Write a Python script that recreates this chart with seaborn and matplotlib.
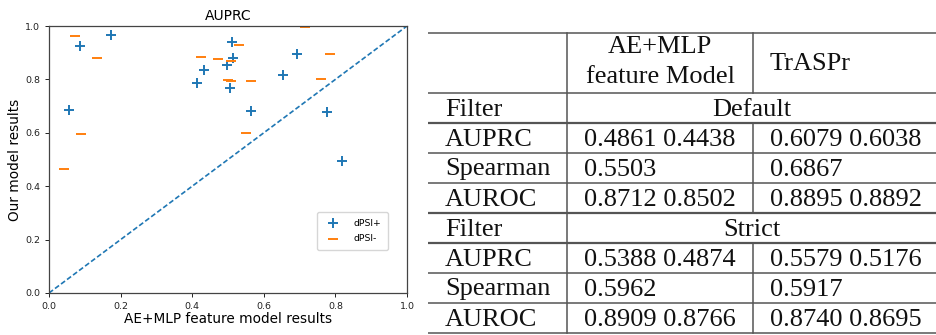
import numpy as np
import pandas as pd
import matplotlib
matplotlib.use("Agg")
import matplotlib.pyplot as plt
import seaborn as sns

# scatter values (x: AE+MLP feature model, y: our model)
plus_x = [0.057, 0.087, 0.172, 0.414, 0.433, 0.498, 0.512, 0.514, 0.505, 0.563, 0.654, 0.693, 0.777, 0.819]
plus_y = [0.686, 0.924, 0.968, 0.788, 0.835, 0.853, 0.941, 0.882, 0.769, 0.682, 0.817, 0.897, 0.678, 0.493]
minus_x = [0.072, 0.134, 0.090, 0.042, 0.425, 0.473, 0.530, 0.509, 0.501, 0.507, 0.563, 0.549, 0.716, 0.759, 0.784]
minus_y = [0.964, 0.879, 0.596, 0.466, 0.884, 0.878, 0.930, 0.870, 0.798, 0.794, 0.794, 0.599, 0.995, 0.803, 0.897]

# table contents
col_headers = [["AE+MLP", "feature Model"], ["TrASPr"]]
metrics = ["AUPRC", "Spearman", "AUROC"]
filters = ["Default", "Strict"]
ae_vals = {
    "Default": ["0.4861 0.4438", "0.5503", "0.8712 0.8502"],
    "Strict": ["0.5388 0.4874", "0.5962", "0.8909 0.8766"],
}
traspr_vals = {
    "Default": ["0.6079 0.6038", "0.6867", "0.8895 0.8892"],
    "Strict": ["0.5579 0.5176", "0.5917", "0.8740 0.8695"],
}

df = pd.concat([
    pd.DataFrame({"x": plus_x, "y": plus_y, "kind": "dPSI+"}),
    pd.DataFrame({"x": minus_x, "y": minus_y, "kind": "dPSI-"}),
])

W, H = 937, 335
fig = plt.figure(figsize=(W / 100, H / 100), dpi=100)

# ---- scatter panel
ax = fig.add_axes([49 / W, (H - 293) / H, 358 / W, 267 / H])
sns.scatterplot(data=df[df.kind == "dPSI+"], x="x", y="y", marker="+", color="#1f77b4",
                s=55, linewidth=1.4, label="dPSI+", ax=ax)
sns.scatterplot(data=df[df.kind == "dPSI-"], x="x", y="y", marker="_", color="#ff7f0e",
                s=55, linewidth=1.4, label="dPSI-", ax=ax)
ax.axline((0, 0), slope=1, ls="--", color="#1f77b4", lw=1.2, dashes=(3, 1.5))
ax.set_xlim(0, 1)
ax.set_ylim(0, 1)
ax.set_xticks(np.arange(0, 1.01, 0.2))
ax.set_yticks(np.arange(0, 1.01, 0.2))
ax.tick_params(labelsize=6.8, length=3, width=0.7, colors="#222")
for sp in ax.spines.values():
    sp.set_color("#444")
    sp.set_linewidth(0.9)
ax.set_title("AUPRC", fontsize=10, pad=4)
ax.set_xlabel("AE+MLP feature model results", fontsize=9.8, labelpad=1)
ax.set_ylabel("Our model results", fontsize=9.8, labelpad=2)
ax.legend(loc="lower right", bbox_to_anchor=(0.947, 0.162), borderaxespad=0,
          fontsize=6.7, handletextpad=1.2, borderpad=0.7, labelspacing=0.7)

# ---- table panel (coordinates in figure pixels)
tx = fig.add_axes([428 / W, 0, (W - 428) / W, 1])
tx.set_xlim(428, W)
tx.set_ylim(H, 0)
tx.axis("off")

serif = {"family": "Liberation Serif", "size": 19, "color": "#111"}
line_kw = {"color": "#555", "lw": 1.1}
x0, x1, x2, x3 = 428, 567.5, 753, W
header_top, header_bot = 33, 93
row_h = 30

rows_y = [header_top, header_bot]
for i in range(8):
    rows_y.append(header_bot + (i + 1) * row_h)
for k, y in enumerate(rows_y):
    thick = y in (header_bot + row_h, header_bot + 4 * row_h, header_bot + 5 * row_h)
    tx.plot([x0, x3], [y, y], color="#555", lw=1.6 if thick else 1.1, solid_capstyle="butt")

# first vertical line runs the full height
tx.plot([x1, x1], [header_top, rows_y[-1]], **line_kw)
# second vertical line skips the merged "Filter" rows
tx.plot([x2, x2], [header_top, header_bot], **line_kw)
for f in range(2):
    top = header_bot + (f * 4 + 1) * row_h
    tx.plot([x2, x2], [top, top + 3 * row_h], **line_kw)

# header
tx.text((x1 + x2) / 2, 53, col_headers[0][0], ha="center", va="baseline", fontdict=serif)
tx.text((x1 + x2) / 2, 83, col_headers[0][1], ha="center", va="baseline", fontdict=serif)
tx.text(x2 + 17, 70, col_headers[1][0], ha="left", va="baseline", fontdict=serif)

for f, name in enumerate(filters):
    base = header_bot + f * 4 * row_h
    tx.text(x0 + 17, base + row_h - 7.5, "Filter", ha="left", va="baseline", fontdict=serif)
    tx.text((x1 + x3) / 2, base + row_h - 7.5, name, ha="center", va="baseline", fontdict=serif)
    for m, metric in enumerate(metrics):
        yb = base + (m + 2) * row_h - 7.5
        tx.text(x0 + 17, yb, metric, ha="left", va="baseline", fontdict=serif)
        tx.text(x1 + 17, yb, ae_vals[name][m], ha="left", va="baseline", fontdict=serif)
        tx.text(x2 + 17, yb, traspr_vals[name][m], ha="left", va="baseline", fontdict=serif)

fig.savefig("out.png", dpi=100)
